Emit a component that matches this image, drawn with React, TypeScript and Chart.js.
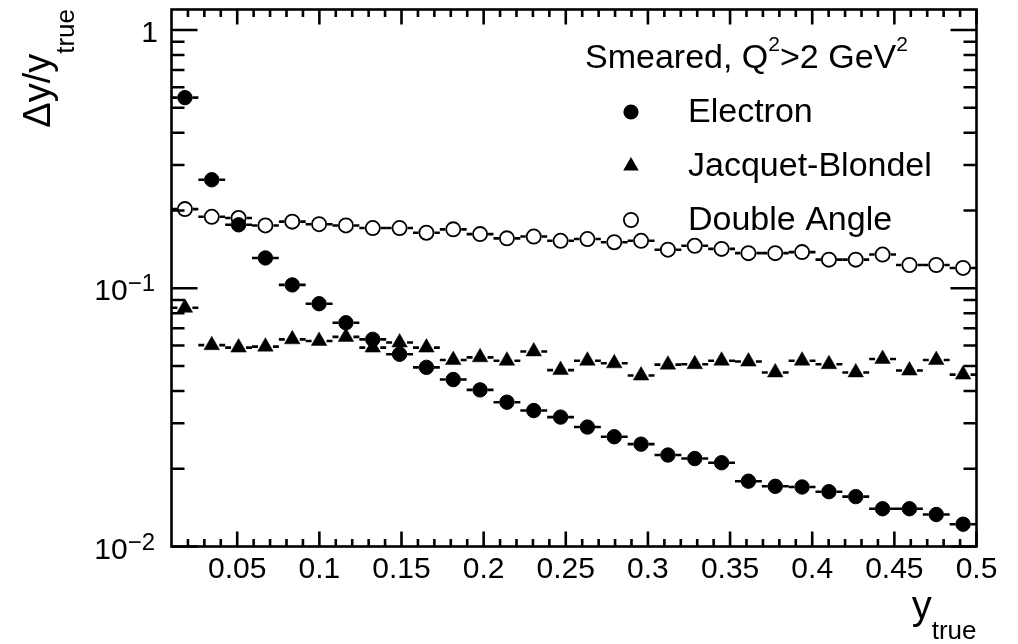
import { useEffect, useRef } from 'react';
import { Chart, registerables } from 'chart.js';

Chart.register(...registerables);

// ---- data ----
const binCenters = [
  0.01817, 0.0345, 0.05083, 0.06717, 0.0835, 0.09983, 0.11617, 0.1325, 0.14883, 0.16517,
  0.1815, 0.19783, 0.21417, 0.2305, 0.24683, 0.26317, 0.2795, 0.29583, 0.31217, 0.3285,
  0.34483, 0.36117, 0.3775, 0.39383, 0.41017, 0.4265, 0.44283, 0.45917, 0.4755, 0.49183,
];
const binHalfWidth = 0.008167;

const electron = [
  0.547, 0.263, 0.176, 0.131, 0.103, 0.0871, 0.0735, 0.0634, 0.0555, 0.0494,
  0.0443, 0.0404, 0.0362, 0.0336, 0.0317, 0.029, 0.0266, 0.0249, 0.0226, 0.0219,
  0.0211, 0.0179, 0.0171, 0.017, 0.0163, 0.0156, 0.014, 0.014, 0.0133, 0.0122,
];
const jacquetBlondel = [
  0.084, 0.0602, 0.0589, 0.0594, 0.0634, 0.0625, 0.0648, 0.0589, 0.0616, 0.0589,
  0.0527, 0.054, 0.0524, 0.0569, 0.0482, 0.0524, 0.0512, 0.0459, 0.0506, 0.0508,
  0.0524, 0.052, 0.0472, 0.0524, 0.0508, 0.0472, 0.0532, 0.048, 0.0527, 0.0463,
];
const doubleAngle = [
  0.2025, 0.189, 0.187, 0.175, 0.181, 0.177, 0.175, 0.171, 0.171, 0.164,
  0.169, 0.162, 0.156, 0.1585, 0.1526, 0.155, 0.1507, 0.1526, 0.141, 0.146,
  0.142, 0.1367, 0.1367, 0.138, 0.129, 0.129, 0.135, 0.123, 0.123, 0.1198,
];

const seriesNames = ['Electron', 'Jacquet-Blondel', 'Double Angle'];

const xTickValues = [0.05, 0.1, 0.15, 0.2, 0.25, 0.3, 0.35, 0.4, 0.45, 0.5];
const xTickLabels = ['0.05', '0.1', '0.15', '0.2', '0.25', '0.3', '0.35', '0.4', '0.45', '0.5'];
const xMinorStep = 0.01;
const yTickValues = [1, 0.1, 0.01];
const yTickBases = ['1', '10', '10'];
const yTickExps = ['', '\u22121', '\u22122'];

const X_MIN = 0.01;
const X_MAX = 0.5;
const Y_MIN = 0.01;
const Y_MAX = 1.2;

const FONT = '"Liberation Sans", Arial, Helvetica, sans-serif';

function font(size: number) {
  return `${size}px ${FONT}`;
}

type Part = { t: string; size: number; dy: number };

function drawParts(ctx: CanvasRenderingContext2D, parts: Part[], x: number, y: number, align: 'left' | 'right') {
  ctx.textAlign = 'left';
  ctx.textBaseline = 'alphabetic';
  let total = 0;
  for (const p of parts) {
    ctx.font = font(p.size);
    total += ctx.measureText(p.t).width;
  }
  let cx = align === 'left' ? x : x - total;
  for (const p of parts) {
    ctx.font = font(p.size);
    ctx.fillText(p.t, cx, y + p.dy);
    cx += ctx.measureText(p.t).width;
  }
}

const TRI_R = 9;
const DOT_R = 7.2;
const OPEN_R = 7.1;

function drawMarker(ctx: CanvasRenderingContext2D, kind: number, x: number, y: number) {
  ctx.save();
  ctx.fillStyle = '#000';
  ctx.strokeStyle = '#000';
  if (kind === 0) {
    ctx.beginPath();
    ctx.arc(x, y, DOT_R + 0.4, 0, Math.PI * 2);
    ctx.fill();
  } else if (kind === 1) {
    const r = TRI_R;
    ctx.beginPath();
    for (let k = 0; k < 3; k++) {
      const a = (k * 2 * Math.PI) / 3;
      const px = x + Math.sin(a) * r;
      const py = y - Math.cos(a) * r;
      if (k === 0) ctx.moveTo(px, py);
      else ctx.lineTo(px, py);
    }
    ctx.closePath();
    ctx.fill();
  } else {
    ctx.lineWidth = 1.8;
    ctx.fillStyle = '#fff';
    ctx.beginPath();
    ctx.arc(x, y, OPEN_R, 0, Math.PI * 2);
    ctx.fill();
    ctx.stroke();
  }
  ctx.restore();
}

const rootPlugin = {
  id: 'rootStyle',
  beforeDatasetsDraw(chart: any) {
    const ctx: CanvasRenderingContext2D = chart.ctx;
    const xs = chart.scales.x;
    const ys = chart.scales.y;
    const series = [electron, jacquetBlondel, doubleAngle];
    const gaps = [7.5, 7.5, 8];
    ctx.save();
    ctx.strokeStyle = '#000';
    ctx.lineWidth = 2.6;
    ctx.lineCap = 'butt';
    series.forEach((vals, s) => {
      vals.forEach((v, i) => {
        const cx = xs.getPixelForValue(binCenters[i]);
        const lo = Math.max(xs.getPixelForValue(binCenters[i] - binHalfWidth), chart.chartArea.left);
        const hi = Math.min(xs.getPixelForValue(binCenters[i] + binHalfWidth), chart.chartArea.right);
        const py = ys.getPixelForValue(v);
        ctx.beginPath();
        if (cx - gaps[s] > lo) {
          ctx.moveTo(lo, py);
          ctx.lineTo(cx - gaps[s], py);
        }
        if (cx + gaps[s] < hi) {
          ctx.moveTo(cx + gaps[s], py);
          ctx.lineTo(hi, py);
        }
        ctx.stroke();
      });
    });
    ctx.restore();
  },
  afterDatasetsDraw(chart: any) {
    const ctx: CanvasRenderingContext2D = chart.ctx;
    const xs = chart.scales.x;
    const ys = chart.scales.y;
    const { left, right, top, bottom } = chart.chartArea;
    ctx.save();
    ctx.strokeStyle = '#000';
    ctx.fillStyle = '#000';
    ctx.lineWidth = 2.6;
    // frame
    ctx.strokeRect(left, top, right - left, bottom - top);
    // x ticks
    ctx.beginPath();
    for (let v = X_MIN + xMinorStep; v < X_MAX + 1e-9; v += xMinorStep) {
      const isMajor = xTickValues.some((t) => Math.abs(t - v) < 1e-6);
      const len = isMajor ? 15 : 7.5;
      const px = xs.getPixelForValue(v);
      ctx.moveTo(px, bottom);
      ctx.lineTo(px, bottom - len);
      ctx.moveTo(px, top);
      ctx.lineTo(px, top + len);
    }
    ctx.stroke();
    // y ticks
    ctx.beginPath();
    for (let e = -2; e <= 0; e++) {
      for (let k = 1; k <= 9; k++) {
        const v = k * Math.pow(10, e);
        if (v < Y_MIN - 1e-12 || v > Y_MAX) continue;
        const len = k === 1 ? 26 : 13;
        const py = ys.getPixelForValue(v);
        ctx.moveTo(left, py);
        ctx.lineTo(left + len, py);
        ctx.moveTo(right, py);
        ctx.lineTo(right - len, py);
      }
    }
    ctx.stroke();
    // y tick labels
    yTickValues.forEach((v, i) => {
      const py = ys.getPixelForValue(v);
      const parts: Part[] = [{ t: yTickBases[i], size: 30, dy: 0 }];
      if (yTickExps[i]) parts.push({ t: yTickExps[i], size: 24, dy: -9 });
      drawParts(ctx, parts, yTickExps[i] ? 155 : 158, py + 12, 'right');
    });
    // x title
    drawParts(
      ctx,
      [
        { t: 'y', size: 40, dy: 0 },
        { t: 'true', size: 26, dy: 20 },
      ],
      right,
      619,
      'right'
    );
    // y title (rotated)
    ctx.save();
    ctx.translate(50, 9);
    ctx.rotate(-Math.PI / 2);
    drawParts(
      ctx,
      [
        { t: '\u0394y/y', size: 38, dy: 0 },
        { t: 'true', size: 26, dy: 24 },
      ],
      0,
      0,
      'right'
    );
    ctx.restore();
    // legend
    drawParts(
      ctx,
      [
        { t: 'Smeared, Q', size: 34, dy: 0 },
        { t: '2', size: 21, dy: -17 },
        { t: '>2 GeV', size: 34, dy: 0 },
        { t: '2', size: 21, dy: -17 },
      ],
      585,
      68,
      'left'
    );
    const baselines = [122, 176, 230];
    seriesNames.forEach((name, i) => {
      drawMarker(ctx, i, 631, baselines[i] - 10);
      drawParts(ctx, [{ t: name, size: 34, dy: 0 }], 688, baselines[i], 'left');
    });
    ctx.restore();
  },
};

export default function App() {
  const ref = useRef<HTMLCanvasElement | null>(null);
  useEffect(() => {
    if (!ref.current) return;
    const mk = (vals: number[]) => binCenters.map((x, i) => ({ x, y: vals[i] }));
    const chart = new Chart(ref.current, {
      type: 'scatter',
      data: {
        datasets: [
          {
            label: seriesNames[0],
            data: mk(electron),
            pointStyle: 'circle',
            pointRadius: DOT_R,
            backgroundColor: '#000',
            borderColor: '#000',
            borderWidth: 1,
            order: 0,
          },
          {
            label: seriesNames[1],
            data: mk(jacquetBlondel),
            pointStyle: 'triangle',
            pointRadius: TRI_R,
            backgroundColor: '#000',
            borderColor: '#000',
            borderWidth: 0.5,
            order: 1,
          },
          {
            label: seriesNames[2],
            data: mk(doubleAngle),
            pointStyle: 'circle',
            pointRadius: OPEN_R,
            backgroundColor: '#fff',
            borderColor: '#000',
            borderWidth: 1.8,
            order: 2,
          },
        ],
      },
      options: {
        responsive: false,
        animation: false,
        events: [],
        layout: { padding: { top: 6.5, right: 41.5, left: 0, bottom: 0 } },
        plugins: { legend: { display: false }, tooltip: { enabled: false }, title: { display: false } },
        scales: {
          x: {
            type: 'linear',
            min: X_MIN,
            max: X_MAX,
            bounds: 'data',
            afterBuildTicks: (s: any) => {
              s.ticks = xTickValues.map((v) => ({ value: v }));
            },
            afterFit: (s: any) => {
              s.height = 97.5;
            },
            ticks: {
              autoSkip: false,
              maxRotation: 0,
              minRotation: 0,
              padding: 5.5,
              color: '#000',
              font: { family: FONT, size: 30 },
              callback: (_v: any, i: number) => xTickLabels[i],
            },
            grid: { display: false, drawTicks: false },
            border: { display: false },
          },
          y: {
            type: 'logarithmic',
            min: Y_MIN,
            max: Y_MAX,
            bounds: 'data',
            afterFit: (s: any) => {
              s.width = 171.5;
            },
            ticks: { display: false },
            grid: { display: false, drawTicks: false },
            border: { display: false },
          },
        },
      },
      plugins: [rootPlugin],
    } as any);
    return () => chart.destroy();
  }, []);
  return (
    <div style={{ position: 'absolute', left: 0, top: 0, width: 1018, height: 644, background: '#fff' }}>
      <canvas ref={ref} width={1018} height={644} style={{ display: 'block' }} />
    </div>
  );
}
